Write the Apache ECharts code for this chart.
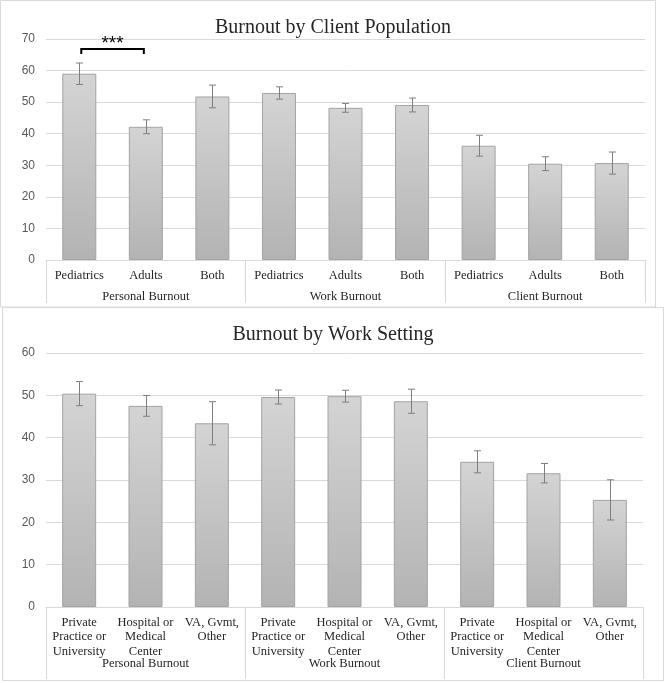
<!DOCTYPE html>
<html>
<head>
<meta charset="utf-8">
<script src="https://cdn.jsdelivr.net/npm/echarts@6/dist/echarts.min.js"></script>
<style>
html,body{margin:0;padding:0;background:#fff;}
#chart{width:666px;height:683px;}
</style>
</head>
<body>
<div id="chart"></div>
<script>
// ---- Data ----
const groups = ['Personal Burnout', 'Work Burnout', 'Client Burnout'];
const popCategories = ['Pediatrics', 'Adults', 'Both'];
const popMeans = [59.0, 42.2, 51.8, 52.9, 48.2, 49.1, 36.2, 30.5, 30.7];
const popErr = [3.4, 2.2, 3.6, 1.95, 1.4, 2.2, 3.3, 2.2, 3.5];
const settingCategories = ['Private\nPractice or\nUniversity', 'Hospital or\nMedical\nCenter', 'VA, Gvmt,\nOther'];
const settingMeans = [50.4, 47.5, 43.4, 49.6, 49.8, 48.6, 34.3, 31.6, 25.3];
const settingErr = [2.85, 2.45, 5.1, 1.65, 1.4, 2.85, 2.6, 2.3, 4.75];
const popTicks = { min: 0, max: 70, interval: 10 };
const settingTicks = { min: 0, max: 60, interval: 10 };
const sigFrom = 0, sigTo = 1, sigLevel = 66.8, sigLabel = '***';
const titles = ['Burnout by Client Population', 'Burnout by Work Setting'];

// ---- Build ----
const popLabels = groups.flatMap(() => popCategories);
const setLabels = groups.flatMap(() => settingCategories);
const errData = (m, e) => m.map((v, i) => [i, v - e[i], v + e[i]]);

const serif = '"Liberation Serif", "Times New Roman", serif';
const sans = '"Liberation Sans", Arial, sans-serif';
const gridColor = '#d9d9d9';

const barStyle = {
  color: new echarts.graphic.LinearGradient(0, 0, 0, 1, [
    { offset: 0, color: '#d4d4d4' },
    { offset: 1, color: '#b3b3b3' }
  ]),
  borderColor: '#a3a3a3',
  borderWidth: 1
};

function errRender(params, api) {
  const x = api.value(0);
  const lo = api.coord([x, api.value(1)]);
  const hi = api.coord([x, api.value(2)]);
  const cx = Math.round(lo[0]) + 0.5;
  const cap = 3.5;
  const st = { stroke: '#7f7f7f', lineWidth: 1 };
  return {
    type: 'group',
    children: [
      { type: 'line', shape: { x1: cx, y1: hi[1], x2: cx, y2: lo[1] }, style: st },
      { type: 'line', shape: { x1: cx - cap, y1: hi[1], x2: cx + cap, y2: hi[1] }, style: st },
      { type: 'line', shape: { x1: cx - cap, y1: lo[1], x2: cx + cap, y2: lo[1] }, style: st }
    ]
  };
}

function sigRender(params, api) {
  const a = api.coord([api.value(0), api.value(2)]);
  const b = api.coord([api.value(1), api.value(2)]);
  const x0 = a[0] + 2, x1 = b[0] - 2, y = a[1], d = 5;
  return {
    type: 'group',
    children: [
      { type: 'polyline', shape: { points: [[x0, y + d], [x0, y], [x1, y], [x1, y + d]] },
        style: { stroke: '#000', lineWidth: 2, fill: null } },
      { type: 'text', x: (x0 + x1) / 2, y: y + 4,
        style: { text: sigLabel, font: '19px ' + sans, fill: '#000', align: 'center', verticalAlign: 'bottom' } }
    ]
  };
}

function yAxis(gi, t) {
  return {
    gridIndex: gi, type: 'value', min: t.min, max: t.max, interval: t.interval,
    axisLine: { show: false }, axisTick: { show: false },
    axisLabel: { color: '#595959', fontFamily: sans, fontSize: 12, margin: 11 },
    splitLine: { lineStyle: { color: gridColor, width: 1 } }
  };
}

function subAxis(gi, labels, lh, margin) {
  return {
    gridIndex: gi, type: 'category', data: labels, position: 'bottom',
    axisLine: { lineStyle: { color: gridColor } },
    axisTick: { show: false },
    axisLabel: { interval: 0, margin: margin, color: '#262626', fontFamily: serif, fontSize: 12.5, lineHeight: lh }
  };
}

function groupAxis(gi, tickLen, margin) {
  return {
    gridIndex: gi, type: 'category', data: groups, position: 'bottom',
    axisLine: { show: false },
    axisTick: { show: true, interval: 0, length: tickLen, lineStyle: { color: gridColor } },
    axisLabel: { interval: 0, margin: margin, color: '#262626', fontFamily: serif, fontSize: 12.5 }
  };
}

const chart = echarts.init(document.getElementById('chart'), null, { renderer: 'canvas' });
chart.setOption({
  animation: false,
  backgroundColor: '#fff',
  graphic: [
    { type: 'rect', shape: { x: 0.5, y: 0.5, width: 655, height: 306.5 }, style: { fill: null, stroke: gridColor } },
    { type: 'rect', shape: { x: 2.5, y: 307.5, width: 661, height: 373 }, style: { fill: null, stroke: gridColor } }
  ],
  title: [
    { text: titles[0], left: 'center', top: 11, textStyle: { fontFamily: serif, fontSize: 20, fontWeight: 'normal', color: '#262626', lineHeight: 24 } },
    { text: titles[1], left: 'center', top: 318, textStyle: { fontFamily: serif, fontSize: 20, fontWeight: 'normal', color: '#262626', lineHeight: 24 } }
  ],
  grid: [
    { left: 46, top: 39, width: 599, height: 221 },
    { left: 46, top: 353, width: 597, height: 254 }
  ],
  xAxis: [
    subAxis(0, popLabels, 15, 8),
    groupAxis(0, 43, 30),
    subAxis(1, setLabels, 14.3, 8.5),
    groupAxis(1, 72, 50)
  ],
  yAxis: [yAxis(0, popTicks), yAxis(1, settingTicks)],
  series: [
    { type: 'bar', xAxisIndex: 0, yAxisIndex: 0, data: popMeans, barWidth: 34, itemStyle: barStyle },
    { type: 'custom', xAxisIndex: 0, yAxisIndex: 0, data: errData(popMeans, popErr), renderItem: errRender, z: 5 },
    { type: 'custom', xAxisIndex: 0, yAxisIndex: 0, data: [[sigFrom, sigTo, sigLevel]], renderItem: sigRender, z: 6, clip: false },
    { type: 'bar', xAxisIndex: 2, yAxisIndex: 1, data: settingMeans, barWidth: 34, itemStyle: barStyle },
    { type: 'custom', xAxisIndex: 2, yAxisIndex: 1, data: errData(settingMeans, settingErr), renderItem: errRender, z: 5 }
  ]
});
</script>
</body>
</html>
